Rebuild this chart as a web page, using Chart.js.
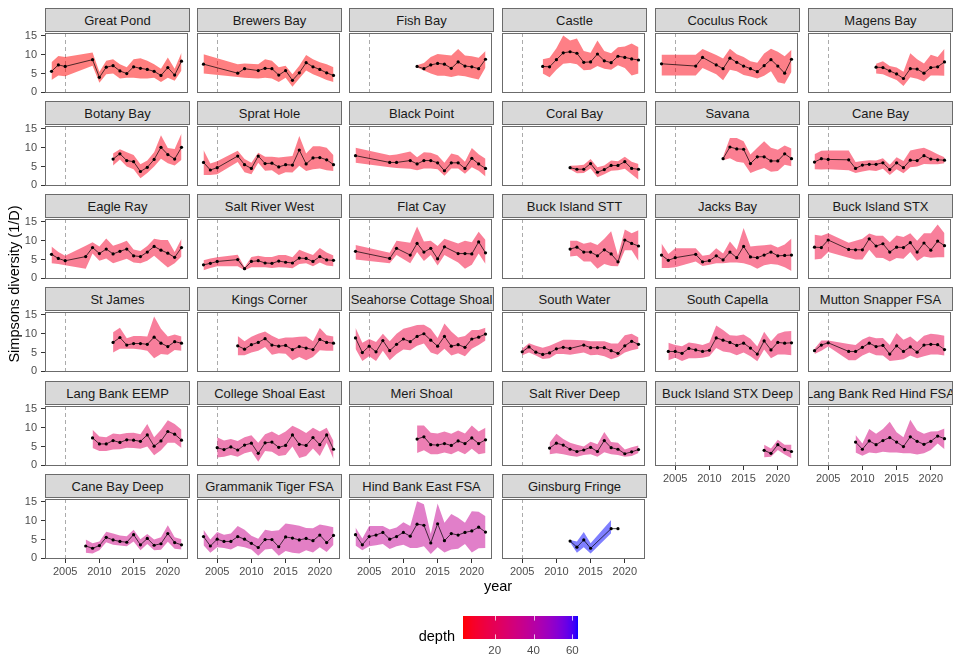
<!DOCTYPE html>
<html>
<head>
<meta charset="utf-8">
<script src="https://cdn.jsdelivr.net/npm/chart.js@4.4.1/dist/chart.umd.min.js"></script>
<style>
  body { margin: 0; background: #fff; }
  #wrap { position: relative; width: 960px; height: 672px; overflow: hidden;
          font-family: 'Liberation Sans', Arial, sans-serif; }
  canvas { position: absolute; }
  .strip { position: absolute; box-sizing: border-box; background: #d9d9d9;
           border: 1px solid #6b6b6b; display: flex; justify-content: center;
           align-items: center; overflow: hidden; white-space: nowrap;
           font-size: 13px; color: #1a1a1a; }
  .lab { position: absolute; white-space: nowrap; height: 18px; line-height: 18px;
         font-size: 14.5px; color: #000; }
</style>
</head>
<body>
<div id="wrap"></div>
<script>
// ---- data ----
const sites = ['Great Pond', 'Brewers Bay', 'Fish Bay', 'Castle', 'Coculus Rock', 'Magens Bay',
  'Botany Bay', 'Sprat Hole', 'Black Point', 'Coral Bay', 'Savana', 'Cane Bay',
  'Eagle Ray', 'Salt River West', 'Flat Cay', 'Buck Island STT', 'Jacks Bay', 'Buck Island STX',
  'St James', 'Kings Corner', 'Seahorse Cottage Shoal', 'South Water', 'South Capella', 'Mutton Snapper FSA',
  'Lang Bank EEMP', 'College Shoal East', 'Meri Shoal', 'Salt River Deep', 'Buck Island STX Deep', 'Lang Bank Red Hind FSA',
  'Cane Bay Deep', 'Grammanik Tiger FSA', 'Hind Bank East FSA', 'Ginsburg Fringe'];

const depth = [3.7, 4, 4.5, 5, 5.5, 6, 6.5, 7, 7.5, 8, 8.5, 9,
  10, 10.5, 11, 11.5, 12, 12.5, 13, 14, 15, 16, 17, 18,
  22, 24, 25, 26, 27, 30, 32, 34, 36, 62.9];

const years = [
  [2003,2004,2005,2009,2010,2011,2012,2013,2014,2015,2016,2017,2018,2019,2020,2021,2022],
  [2003,2008,2009,2011,2012,2013,2014,2015,2016,2017,2018,2019,2020,2021,2022],
  [2012,2013,2014,2015,2016,2017,2018,2019,2020,2021,2022],
  [2008,2009,2010,2011,2012,2013,2014,2015,2016,2017,2018,2019,2020,2021,2022],
  [2003,2008,2009,2011,2012,2013,2014,2015,2016,2017,2018,2019,2020,2021,2022],
  [2012,2013,2014,2015,2016,2017,2018,2019,2020,2021,2022],
  [2012,2013,2014,2015,2016,2017,2018,2019,2020,2021,2022],
  [2003,2004,2005,2008,2009,2010,2011,2012,2013,2014,2015,2016,2017,2018,2019,2020,2021,2022],
  [2003,2008,2009,2011,2012,2013,2014,2015,2016,2017,2018,2019,2020,2021,2022],
  [2012,2013,2014,2015,2016,2017,2018,2019,2020,2021,2022],
  [2012,2013,2014,2015,2016,2017,2018,2019,2020,2021,2022],
  [2003,2004,2005,2008,2009,2010,2011,2012,2013,2014,2015,2016,2017,2018,2019,2020,2021,2022],
  [2003,2004,2005,2008,2009,2010,2011,2012,2013,2014,2015,2016,2017,2018,2019,2020,2021,2022],
  [2003,2004,2005,2008,2009,2010,2011,2012,2013,2014,2015,2016,2017,2018,2019,2020,2021,2022],
  [2003,2008,2009,2011,2012,2013,2014,2015,2016,2018,2019,2020,2021,2022],
  [2012,2013,2014,2015,2016,2017,2018,2019,2020,2021,2022],
  [2003,2004,2005,2008,2009,2010,2011,2012,2013,2014,2015,2016,2017,2018,2019,2020,2021,2022],
  [2003,2004,2005,2008,2009,2010,2011,2012,2013,2014,2015,2016,2017,2018,2019,2020,2021,2022],
  [2012,2013,2014,2015,2016,2017,2018,2019,2020,2021,2022],
  [2008,2009,2010,2011,2012,2013,2014,2015,2016,2017,2018,2019,2020,2021,2022],
  [2003,2004,2005,2006,2007,2008,2009,2010,2011,2012,2013,2014,2015,2016,2017,2018,2019,2020,2021,2022],
  [2005,2006,2007,2008,2009,2010,2011,2012,2014,2015,2016,2017,2018,2019,2020,2021,2022],
  [2004,2005,2006,2007,2008,2009,2010,2011,2012,2013,2014,2015,2016,2017,2018,2019,2020,2021,2022],
  [2003,2004,2005,2008,2009,2010,2011,2012,2013,2014,2015,2016,2017,2018,2019,2020,2021,2022],
  [2009,2010,2011,2012,2013,2014,2015,2016,2017,2018,2019,2020,2021,2022],
  [2005,2006,2007,2008,2009,2010,2011,2012,2013,2014,2015,2016,2017,2018,2019,2020,2021,2022],
  [2012,2013,2014,2015,2016,2017,2018,2019,2020,2021,2022],
  [2009,2010,2011,2012,2013,2014,2015,2016,2017,2018,2019,2020,2021,2022],
  [2018,2019,2020,2021,2022],
  [2009,2010,2011,2012,2013,2014,2015,2016,2017,2018,2019,2020,2021,2022],
  [2008,2009,2010,2011,2012,2013,2014,2015,2016,2017,2018,2019,2020,2021,2022],
  [2003,2004,2005,2006,2007,2008,2009,2010,2011,2012,2013,2014,2015,2016,2017,2018,2019,2020,2021,2022],
  [2003,2004,2005,2006,2007,2008,2009,2010,2011,2012,2013,2014,2015,2016,2017,2018,2019,2020,2021,2022],
  [2012,2013,2014,2015,2018,2019]
];

const simpson = [
  [5.6,7.3,6.9,8.7,4.0,6.7,7.1,5.7,5.0,6.8,6.4,6.1,5.6,4.5,6.6,4.6,8.3],
  [7.5,5.1,6.3,5.8,6.4,6.3,4.6,5.8,3.2,5.2,7.9,6.8,6.1,5.2,4.5],
  [6.9,6.3,7.3,7.7,7.5,6.4,8.1,7.0,6.8,6.3,8.8],
  [6.9,6.8,8.7,10.5,10.8,10.4,8.0,8.1,10.2,8.4,7.9,9.6,9.3,8.9,8.6],
  [7.6,7.0,9.3,7.3,6.3,9.1,8.0,7.0,6.3,5.5,7.1,8.7,7.0,5.1,8.8],
  [6.7,6.6,5.7,4.9,3.7,6.3,6.2,5.1,6.6,6.8,8.1],
  [7.0,8.4,6.6,6.3,3.7,4.8,6.9,10.1,8.2,7.0,10.1],
  [6.1,4.1,4.7,7.8,5.5,4.5,7.8,5.8,5.9,4.9,5.5,5.4,9.4,5.7,7.3,7.4,6.8,5.5],
  [7.9,6.1,6.1,6.6,5.7,6.6,6.6,6.0,3.9,6.0,6.0,4.5,7.2,5.7,4.5],
  [4.7,4.3,4.3,5.8,3.5,4.2,5.3,5.3,6.3,4.5,4.3],
  [7.1,10.2,9.7,9.6,5.8,7.6,7.6,6.5,6.5,8.4,7.1],
  [6.2,7.1,6.9,6.8,4.5,5.4,5.6,5.6,6.0,4.2,6.0,4.7,6.7,6.6,7.9,7.0,6.8,6.7],
  [6.4,5.3,4.7,5.8,8.2,6.6,7.8,6.5,7.2,7.8,6.0,5.8,7.0,8.5,7.5,6.7,5.6,8.2],
  [3.6,4.0,4.5,5.0,2.6,4.5,4.7,4.1,4.0,4.6,4.3,4.1,5.4,5.3,4.5,5.8,4.9,4.8],
  [7.2,5.3,8.0,6.2,9.3,7.0,8.0,5.2,8.4,6.6,6.6,6.5,9.7,6.8],
  [7.8,8.3,7.0,7.0,6.0,7.6,6.5,4.4,10.2,9.3,8.6],
  [6.2,4.8,5.5,6.4,4.4,4.7,6.0,4.9,7.0,5.5,8.5,5.7,5.5,6.2,7.0,6.0,6.1,6.2],
  [8.3,8.2,10.2,7.7,7.6,7.6,10.5,8.6,9.2,7.0,8.3,8.2,9.5,7.0,9.4,7.5,9.9,8.7],
  [7.7,9.0,7.0,7.4,7.4,7.2,9.1,7.5,6.6,7.9,7.5],
  [6.8,5.9,7.1,7.7,8.7,7.0,6.7,6.9,5.8,6.6,6.2,5.8,8.5,7.7,7.5],
  [8.9,5.0,6.7,5.2,8.2,5.5,7.2,8.6,7.9,9.3,10.0,8.3,6.7,9.3,6.7,7.1,6.4,8.6,9.1,9.9],
  [5.2,6.5,5.1,4.5,4.9,6.0,6.4,6.1,7.0,6.3,6.3,6.3,5.5,4.8,6.8,8.0,7.2],
  [5.3,5.3,4.8,6.1,5.7,5.3,5.6,8.9,8.3,7.7,6.9,7.5,6.2,4.6,8.1,5.7,7.7,7.5,7.6],
  [5.5,7.0,7.6,5.3,5.3,6.4,7.5,6.6,6.9,4.6,6.8,5.3,6.5,5.1,7.0,7.2,7.1,5.8],
  [7.3,5.7,5.7,6.6,6.1,6.8,6.7,6.4,8.1,5.1,6.5,9.0,8.3,6.7],
  [4.7,4.2,4.9,4.1,5.4,5.9,3.2,6.0,6.2,4.8,5.3,8.1,5.6,5.3,7.4,5.5,8.1,4.3],
  [7.0,7.6,5.5,5.4,5.8,5.3,6.5,5.8,7.3,5.8,6.8],
  [4.6,5.9,5.4,4.3,3.7,4.1,4.8,3.7,6.6,4.7,4.3,3.1,3.6,4.2],
  [4.0,3.2,5.5,4.2,3.7],
  [6.2,4.3,6.5,5.5,6.6,7.4,6.2,5.0,7.6,6.4,5.6,6.4,7.8,7.1],
  [3.3,2.7,3.4,5.6,4.9,4.5,4.3,6.3,3.6,5.3,3.5,3.9,6.6,4.2,3.6],
  [5.8,3.3,5.1,4.5,4.5,5.8,5.1,4.0,2.9,5.0,5.0,3.1,5.7,5.4,4.9,5.3,4.7,6.2,4.2,6.1],
  [6.3,3.6,5.8,6.2,6.9,5.1,5.8,6.9,5.9,9.1,8.8,4.1,9.2,4.7,6.6,6.2,6.9,7.3,8.3,7.0],
  [4.6,3.0,4.9,2.7,7.9,7.9]
];

const upper = [
  [8.0,9.7,9.4,10.6,5.4,8.4,8.8,7.5,6.7,8.8,9.1,8.4,7.5,6.3,9.3,6.3,10.5],
  [10.1,7.5,7.7,7.5,8.8,8.4,6.7,7.1,4.8,7.1,9.9,8.8,8.0,7.5,6.7],
  [7.2,7.8,9.4,10.2,10.0,9.8,11.5,9.8,9.6,9.2,11.0],
  [8.8,9.2,11.7,15.1,13.8,14.3,11.0,10.5,13.8,11.0,10.4,12.0,12.2,13.0,12.0],
  [10.0,10.0,11.5,9.9,9.0,11.6,10.1,9.4,8.3,7.9,10.3,11.6,10.8,9.6,11.3],
  [7.6,8.3,7.0,6.6,5.5,10.4,8.8,7.7,10.0,9.4,11.6],
  [8.5,9.6,8.8,8.1,5.6,6.6,8.8,13.3,9.9,9.7,13.8],
  [9.4,5.8,6.4,9.2,7.0,6.0,8.7,7.6,7.6,7.4,7.6,7.8,13.1,8.5,10.4,10.4,10.0,8.0],
  [10.0,8.0,8.2,9.0,7.5,8.8,8.7,8.0,6.0,8.5,8.0,6.3,9.9,8.3,7.1],
  [5.2,5.3,5.5,7.0,4.8,5.3,6.6,6.4,7.6,6.3,5.7],
  [7.6,12.6,12.6,11.7,8.2,10.0,11.7,10.0,9.5,10.6,9.8],
  [8.3,9.2,9.3,9.3,6.2,6.5,6.7,6.6,7.2,5.5,7.5,6.5,9.3,9.7,10.0,9.2,8.3,7.5],
  [8.5,7.0,6.0,8.7,9.6,8.5,10.6,8.7,9.3,10.0,7.7,7.3,8.6,10.5,10.2,10.2,7.0,10.5],
  [4.8,5.3,5.6,6.3,3.0,5.7,6.0,5.7,5.7,6.2,6.2,5.6,7.6,6.9,6.2,8.1,6.9,6.1],
  [8.9,6.8,10.0,9.5,13.8,9.8,10.0,8.6,10.5,9.3,10.0,9.6,12.4,10.2],
  [10.0,10.0,9.2,9.6,8.9,10.5,12.5,6.0,13.0,12.0,12.8],
  [9.3,6.5,8.0,8.0,6.0,6.3,8.0,6.6,9.8,7.6,13.4,8.5,8.7,8.8,9.0,8.2,9.0,10.6],
  [11.6,11.3,12.0,9.5,10.0,10.5,11.9,11.3,11.3,9.6,11.4,11.0,12.0,10.0,12.0,12.0,14.3,12.0],
  [10.4,11.6,8.8,9.4,9.4,9.3,14.6,11.3,9.3,9.8,9.3],
  [9.4,8.0,9.2,10.0,10.6,9.5,8.6,9.0,9.0,9.2,9.3,8.0,11.5,9.6,9.3],
  [11.6,7.6,8.6,7.8,10.0,8.0,10.0,11.3,11.8,12.3,12.4,11.3,8.9,12.7,10.6,9.0,9.4,11.0,11.0,11.6],
  [6.0,7.5,6.8,6.3,6.8,7.6,8.4,8.4,8.3,8.0,8.0,8.0,7.4,7.4,9.6,10.0,9.0],
  [7.6,7.0,6.7,7.7,7.4,7.0,7.7,12.2,11.0,9.6,9.5,9.8,8.7,6.6,10.5,8.0,10.0,10.6,10.7],
  [6.0,8.2,8.2,7.3,7.0,8.5,9.3,8.8,8.9,7.0,10.2,8.4,9.3,7.8,9.5,10.0,9.8,9.5],
  [9.5,7.7,7.5,8.5,8.3,8.6,8.7,8.3,11.0,7.5,9.5,12.0,11.0,9.5],
  [7.5,6.6,7.0,6.5,7.5,8.0,6.0,8.3,9.0,8.0,9.0,10.5,9.7,8.6,10.0,9.0,10.0,6.5],
  [10.6,10.6,8.7,8.5,9.0,8.4,9.3,8.5,10.6,9.0,10.0],
  [6.0,8.4,7.0,6.0,5.5,5.0,6.3,5.6,8.9,6.2,6.0,4.2,4.8,5.3],
  [5.5,4.5,6.8,5.5,5.5],
  [8.1,5.8,9.7,8.4,9.7,11.6,8.8,7.5,12.1,9.3,8.4,9.0,9.1,9.8],
  [5.0,4.0,4.5,7.1,6.6,6.1,5.9,7.6,5.1,6.5,5.0,5.6,8.8,5.6,5.1],
  [7.6,5.0,7.0,6.3,6.6,8.6,7.6,6.0,5.2,7.6,7.3,7.5,9.3,9.0,8.7,8.1,8.0,9.0,8.7,8.3],
  [8.2,5.3,8.6,8.6,8.6,7.7,8.2,9.6,8.6,15.2,14.4,6.5,14.6,9.5,11.8,10.8,9.5,12.5,12.4,11.2],
  [4.9,4.5,7.0,4.0,10.2,null]
];

const lower = [
  [3.3,4.5,4.3,7.1,2.6,4.8,5.0,3.7,3.9,3.9,3.7,3.7,3.9,2.8,3.9,3.1,5.8],
  [5.0,4.1,3.9,3.7,3.9,3.7,2.8,3.9,1.5,3.7,5.8,4.8,4.1,3.3,2.8],
  [6.6,5.8,5.0,4.4,4.4,4.1,4.5,4.3,3.8,3.4,6.6],
  [5.0,4.0,6.0,7.6,7.8,7.5,5.9,6.0,7.0,6.3,6.0,7.2,6.5,4.5,5.0],
  [4.5,4.5,6.5,4.8,3.2,6.0,5.6,4.6,4.2,3.7,4.4,5.6,2.7,2.3,5.5],
  [5.0,4.8,4.0,3.3,1.7,4.0,3.6,2.9,4.5,4.5,4.4],
  [5.3,6.9,5.0,4.3,1.9,3.3,5.0,7.1,5.9,5.3,6.8],
  [2.8,2.8,3.0,6.2,3.5,3.0,6.0,3.9,4.0,2.8,3.5,3.4,5.2,3.8,4.3,4.5,4.0,3.8],
  [6.0,4.8,4.6,4.4,4.0,4.5,4.5,4.3,2.6,4.5,4.5,3.1,4.8,3.9,2.4],
  [4.3,3.2,3.3,4.5,2.2,3.0,3.9,4.0,4.4,3.0,1.5],
  [6.7,7.2,6.3,6.0,3.3,4.0,4.6,3.6,3.8,5.5,5.1],
  [4.3,4.2,4.3,4.0,3.3,3.7,4.0,3.8,4.4,2.8,4.3,3.2,4.8,5.0,5.7,5.6,5.6,5.9],
  [4.0,3.8,3.5,2.6,6.6,4.7,5.3,4.0,4.6,5.2,4.2,4.0,4.7,6.0,4.4,2.9,4.0,5.8],
  [2.2,2.8,3.2,3.2,2.2,3.0,3.0,3.0,2.8,3.0,2.9,2.7,3.8,4.0,3.2,4.2,3.4,3.2],
  [5.0,4.0,6.2,4.0,7.0,4.6,6.2,3.4,6.2,4.2,2.6,3.6,6.6,3.8],
  [5.8,6.0,4.5,4.5,2.6,3.8,3.3,3.2,7.5,7.5,4.6],
  [2.8,2.8,3.0,4.5,3.3,3.6,4.0,4.0,4.2,4.2,4.0,3.5,2.6,3.5,3.8,3.6,3.0,2.0],
  [5.0,5.2,7.0,5.5,5.0,5.0,7.6,5.5,5.4,4.5,5.4,5.2,7.0,4.6,5.8,5.5,5.6,5.6],
  [5.0,6.0,6.0,6.0,5.8,5.5,3.5,4.6,4.4,5.7,5.5],
  [4.3,4.3,5.0,5.5,6.5,4.4,4.8,4.7,3.0,3.8,3.0,3.8,5.6,5.5,5.5],
  [6.0,2.8,4.0,2.8,5.5,3.0,4.6,5.8,5.6,6.8,7.4,5.0,4.4,6.0,4.2,4.8,4.0,6.0,7.0,8.2],
  [4.3,5.0,4.2,3.3,3.5,4.6,4.6,4.4,5.0,4.3,4.4,4.0,3.2,3.8,5.0,5.6,6.0],
  [3.0,3.6,2.8,3.5,3.5,3.6,4.0,6.2,5.3,5.0,4.3,5.0,4.0,2.7,5.8,3.5,4.5,4.5,4.3],
  [4.6,5.5,6.6,3.0,3.0,4.2,5.0,4.3,4.2,2.8,3.0,3.2,4.2,3.5,4.0,4.5,4.5,4.2],
  [4.6,3.8,3.8,4.2,4.3,4.7,4.6,4.4,5.0,2.7,4.0,6.0,6.0,4.6],
  [2.1,2.3,2.8,2.3,3.2,3.7,1.0,3.8,3.6,2.5,2.8,5.0,2.0,2.5,4.5,2.5,6.0,1.7],
  [3.3,4.0,3.0,3.0,3.4,3.0,3.8,3.0,4.4,3.0,3.3],
  [3.0,3.2,3.0,2.6,2.3,2.8,3.0,2.3,3.5,3.0,2.8,2.3,2.5,3.3],
  [2.2,2.3,4.1,2.9,1.9],
  [3.4,2.6,3.4,3.2,3.6,3.4,3.4,3.2,3.2,2.9,3.2,4.1,5.8,4.3],
  [1.5,1.3,2.2,4.3,3.6,3.4,3.2,4.5,2.2,3.8,2.2,2.3,4.4,2.6,2.4],
  [3.5,1.5,3.0,2.8,2.4,3.3,3.0,2.4,0.7,2.4,2.6,0.7,2.0,1.5,1.3,2.2,1.6,3.0,1.7,3.6],
  [3.4,2.2,3.2,3.5,3.8,2.5,3.2,3.6,2.8,2.8,3.2,1.2,3.0,1.6,2.4,2.6,3.8,1.6,2.7,2.8],
  [4.3,1.5,3.0,1.3,6.7,null]
];

const xTicks = [2005, 2010, 2015, 2020];
const yTicks = [0, 5, 10, 15];
const depthTicks = [20, 40, 60];
const REF_YEAR = 2005;

// ---- layout (pixels) ----
const COL_LEFT = [45, 197, 349, 502, 655, 808];
const STRIP_TOP = [8, 101, 194, 287, 381, 474];
const STRIP_H = 24, PANEL_W = 145, PANEL_H = 62;
const AXW = 45, AXH = 24, PADT = 2, PADR = 2;
const X_MIN = 2002.05, X_MAX = 2022.95, Y_MIN = -0.15, Y_MAX = 15.77;
const DEPTH_MIN = 3.7, DEPTH_MAX = 62.9;
const FONT = "'Liberation Sans', Arial, sans-serif";

// red -> blue gradient interpolated in CIELAB, like ggplot's scale_fill_gradient
function toLin(c) { c /= 255; return c <= 0.04045 ? c / 12.92 : Math.pow((c + 0.055) / 1.055, 2.4); }
function toSrgb(c) { c = c <= 0.0031308 ? 12.92 * c : 1.055 * Math.pow(c, 1 / 2.4) - 0.055; return Math.round(Math.min(1, Math.max(0, c)) * 255); }
function rgbToLab(rgb) {
  const [r, g, b] = rgb.map(toLin);
  const X = (0.4124 * r + 0.3576 * g + 0.1805 * b) / 0.95047;
  const Y = 0.2126 * r + 0.7152 * g + 0.0722 * b;
  const Z = (0.0193 * r + 0.1192 * g + 0.9505 * b) / 1.08883;
  const f = t => t > 0.008856 ? Math.cbrt(t) : 7.787 * t + 16 / 116;
  const fx = f(X), fy = f(Y), fz = f(Z);
  return [116 * fy - 16, 500 * (fx - fy), 200 * (fy - fz)];
}
function labToRgb([L, a, bb]) {
  const fy = (L + 16) / 116, fx = fy + a / 500, fz = fy - bb / 200;
  const fi = t => t > 0.206893 ? t * t * t : (t - 16 / 116) / 7.787;
  const X = fi(fx) * 0.95047, Y = fi(fy), Z = fi(fz) * 1.08883;
  const r = 3.2406 * X - 1.5372 * Y - 0.4986 * Z;
  const g = -0.9689 * X + 1.8758 * Y + 0.0415 * Z;
  const b = 0.0557 * X - 0.2040 * Y + 1.0570 * Z;
  return [toSrgb(r), toSrgb(g), toSrgb(b)];
}
const LAB_LO = rgbToLab([255, 0, 0]), LAB_HI = rgbToLab([0, 0, 255]);
function depthColour(d, alpha) {
  const t = Math.min(1, Math.max(0, (d - DEPTH_MIN) / (DEPTH_MAX - DEPTH_MIN)));
  const [r, g, b] = labToRgb(LAB_LO.map((v, i) => v + (LAB_HI[i] - v) * t));
  return `rgba(${r},${g},${b},${alpha})`;
}

const wrap = document.getElementById('wrap');

const panelDeco = {
  id: 'panelDeco',
  beforeDatasetsDraw(chart) {
    const { ctx, chartArea: a, scales: { x } } = chart;
    const px = Math.round(x.getPixelForValue(REF_YEAR)) + 0.5;
    ctx.save();
    ctx.strokeStyle = '#ababab';
    ctx.lineWidth = 1;
    ctx.setLineDash([4, 3]);
    ctx.beginPath();
    ctx.moveTo(px, a.top);
    ctx.lineTo(px, a.bottom);
    ctx.stroke();
    ctx.restore();
  },
  afterDraw(chart) {
    const { ctx, chartArea: a } = chart;
    ctx.save();
    ctx.strokeStyle = '#6b6b6b';
    ctx.lineWidth = 1;
    ctx.strokeRect(a.left + 0.5, a.top + 0.5, a.right - a.left - 1, a.bottom - a.top - 1);
    ctx.restore();
  }
};

function makePanel(i) {
  const r = Math.floor(i / 6), c = i % 6;
  const left = COL_LEFT[c], stripTop = STRIP_TOP[r], top = stripTop + STRIP_H - 1;
  const showY = c === 0;
  const showX = r === 5 || (r === 4 && c >= 4);

  const strip = document.createElement('div');
  strip.className = 'strip';
  Object.assign(strip.style, { left: left + 'px', top: stripTop + 'px', width: PANEL_W + 'px', height: STRIP_H + 'px' });
  const span = document.createElement('span');
  span.textContent = sites[i];
  strip.appendChild(span);

  const cv = document.createElement('canvas');
  const w = PANEL_W + AXW + PADR, h = PANEL_H + PADT + AXH;
  cv.width = w; cv.height = h;
  Object.assign(cv.style, { left: (left - AXW) + 'px', top: (top - PADT) + 'px', width: w + 'px', height: h + 'px' });
  wrap.appendChild(cv);
  wrap.appendChild(strip);

  const line = years[i].map((yr, k) => ({ x: yr, y: simpson[i][k] }));
  const hi = [], lo = [];
  years[i].forEach((yr, k) => {
    if (upper[i][k] !== null) { hi.push({ x: yr, y: upper[i][k] }); lo.push({ x: yr, y: lower[i][k] }); }
  });
  const fill = depthColour(depth[i], 0.5);

  new Chart(cv, {
    type: 'line',
    data: {
      datasets: [
        { data: line, order: 0, borderColor: '#000', borderWidth: 0.7, pointRadius: 1.6,
          pointBackgroundColor: '#000', pointBorderWidth: 0, fill: false, tension: 0 },
        { data: hi, order: 1, borderWidth: 0, pointRadius: 0, fill: '+1', backgroundColor: fill, tension: 0 },
        { data: lo, order: 2, borderWidth: 0, pointRadius: 0, fill: false, tension: 0 }
      ]
    },
    options: {
      responsive: false,
      animation: false,
      events: [],
      layout: { padding: { top: PADT, right: PADR, left: 0, bottom: 0 } },
      plugins: { legend: { display: false }, tooltip: { enabled: false } },
      scales: {
        x: {
          type: 'linear', min: X_MIN, max: X_MAX,
          afterBuildTicks: s => { s.ticks = xTicks.map(v => ({ value: v })); },
          afterFit: s => { s.height = AXH; s.paddingLeft = 0; s.paddingRight = 0; },
          border: { display: false },
          grid: { display: showX, drawOnChartArea: false, tickLength: 4, color: '#333' },
          ticks: { display: showX, padding: 2, color: '#4d4d4d', maxRotation: 0, autoSkip: false,
                   font: { size: 11, family: FONT }, callback: v => String(v) }
        },
        y: {
          type: 'linear', min: Y_MIN, max: Y_MAX,
          afterBuildTicks: s => { s.ticks = yTicks.map(v => ({ value: v })); },
          afterFit: s => { s.width = AXW; s.paddingTop = 0; s.paddingBottom = 0; },
          border: { display: false },
          grid: { display: showY, drawOnChartArea: false, tickLength: 4, color: '#333' },
          ticks: { display: showY, padding: 4, color: '#4d4d4d', autoSkip: false,
                   font: { size: 11, family: FONT }, callback: v => String(v) }
        }
      }
    },
    plugins: [panelDeco]
  });
}

sites.forEach((_, i) => makePanel(i));

// axis titles
function addLabel(text, css) {
  const d = document.createElement('div');
  d.className = 'lab';
  d.textContent = text;
  Object.assign(d.style, css);
  wrap.appendChild(d);
  return d;
}
addLabel('year', { left: '448px', width: '100px', textAlign: 'center', top: '577px' });
addLabel('Simpsons diversity (1/D)', { left: (14 - 150) + 'px', width: '300px', textAlign: 'center',
  top: (284 - 9) + 'px', transform: 'rotate(-90deg)' });
addLabel('depth', { left: '355px', width: '100px', textAlign: 'right', top: '627px' });

// colour bar legend
const barPlugin = {
  id: 'colourBar',
  beforeDraw(chart) {
    const { ctx, chartArea: a, scales: { x } } = chart;
    ctx.save();
    for (let px = Math.floor(a.left); px < a.right; px++) {
      ctx.fillStyle = depthColour(x.getValueForPixel(px + 0.5), 1);
      ctx.fillRect(px, a.top, 1, a.bottom - a.top);
    }
    ctx.strokeStyle = 'rgba(255,255,255,0.75)';
    ctx.lineWidth = 1;
    const tl = (a.bottom - a.top) / 5;
    depthTicks.forEach(v => {
      const p = Math.round(x.getPixelForValue(v)) + 0.5;
      ctx.beginPath();
      ctx.moveTo(p, a.top); ctx.lineTo(p, a.top + tl);
      ctx.moveTo(p, a.bottom - tl); ctx.lineTo(p, a.bottom);
      ctx.stroke();
    });
    ctx.restore();
  }
};
const lc = document.createElement('canvas');
lc.width = 170; lc.height = 70;
Object.assign(lc.style, { left: '440px', top: '600px', width: '170px', height: '70px' });
wrap.appendChild(lc);
new Chart(lc, {
  type: 'line',
  data: { datasets: [] },
  options: {
    responsive: false,
    animation: false,
    events: [],
    layout: { padding: { left: 23, right: 32, top: 16, bottom: 0 } },
    plugins: { legend: { display: false }, tooltip: { enabled: false } },
    scales: {
      x: {
        type: 'linear', min: DEPTH_MIN, max: DEPTH_MAX,
        afterBuildTicks: s => { s.ticks = depthTicks.map(v => ({ value: v })); },
        afterFit: s => { s.height = 31; s.paddingLeft = 0; s.paddingRight = 0; },
        border: { display: false },
        grid: { display: false, drawTicks: false },
        ticks: { padding: 5, color: '#4d4d4d', maxRotation: 0, autoSkip: false,
                 font: { size: 11.5, family: FONT }, callback: v => String(v) }
      },
      y: { display: false }
    }
  },
  plugins: [barPlugin]
});
</script>
</body>
</html>
